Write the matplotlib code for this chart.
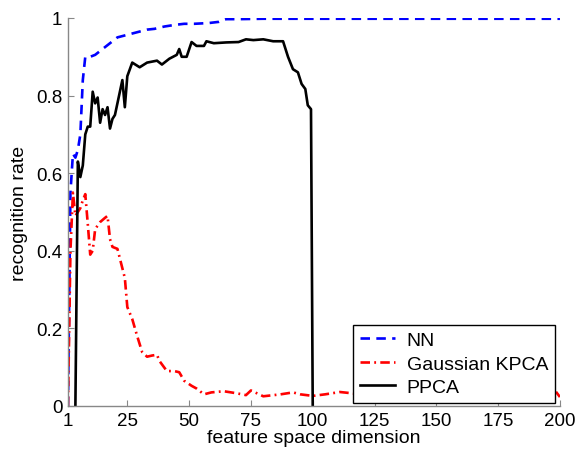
#!/usr/bin/env python3
# Recognition rate vs. feature space dimension (NN / Gaussian KPCA / PPCA).

import matplotlib
matplotlib.use("Agg")
import matplotlib.pyplot as plt

# NN (blue dashed)
nn_x = [1, 2, 3, 4, 5, 6, 7, 8, 10, 12, 15, 18, 21, 24, 27, 30, 33, 36, 40, 44,
        48, 52, 58, 62, 65, 70, 80, 100, 125, 150, 175, 200]
nn_y = [0.0, 0.55, 0.65, 0.64, 0.66, 0.70, 0.84, 0.90, 0.90, 0.905, 0.92, 0.935,
        0.95, 0.955, 0.96, 0.965, 0.97, 0.972, 0.978, 0.982, 0.985, 0.985, 0.987,
        0.99, 0.997, 0.997, 0.998, 0.998, 0.998, 0.998, 0.998, 0.998]

# Gaussian KPCA (red dash-dot)
kpca_x = [1, 2, 3, 4, 5, 6, 7, 8, 9, 10, 11, 12, 14, 16, 17, 18, 19, 21, 22, 24,
          25, 27, 29, 31, 33, 35, 37, 38, 41, 44, 46, 48, 51, 53, 56, 59, 64, 69,
          73, 75, 80, 87, 92, 95, 100, 105, 111, 120, 140, 160, 180, 198, 200]
kpca_y = [0.0, 0.40, 0.55, 0.49, 0.50, 0.51, 0.53, 0.546, 0.47, 0.39, 0.40, 0.456,
          0.474, 0.485, 0.49, 0.43, 0.41, 0.405, 0.38, 0.33, 0.255, 0.224, 0.18,
          0.139, 0.127, 0.13, 0.132, 0.116, 0.09, 0.09, 0.087, 0.065, 0.052, 0.045,
          0.03, 0.035, 0.038, 0.033, 0.028, 0.04, 0.025, 0.03, 0.035, 0.03, 0.026,
          0.03, 0.036, 0.03, 0.03, 0.03, 0.03, 0.04, 0.023]

# PPCA (black solid)
ppca_x = [4, 5, 6, 7, 8, 9, 10, 11, 12, 13, 14, 15, 16, 17, 18, 19, 20, 21, 23,
          24, 25, 27, 30, 33, 37, 39, 42, 45, 46, 47, 49, 51, 53, 56, 57, 60, 65,
          70, 73, 76, 80, 84, 88, 90, 92, 94, 95.5, 97, 98, 99.3, 100]
ppca_y = [0.0, 0.63, 0.59, 0.62, 0.70, 0.72, 0.72, 0.81, 0.78, 0.795, 0.73, 0.765,
          0.75, 0.77, 0.715, 0.74, 0.75, 0.78, 0.84, 0.77, 0.85, 0.885, 0.873,
          0.885, 0.89, 0.88, 0.895, 0.905, 0.92, 0.90, 0.90, 0.938, 0.928, 0.928,
          0.94, 0.935, 0.937, 0.938, 0.945, 0.943, 0.945, 0.94, 0.94, 0.90, 0.868,
          0.86, 0.83, 0.817, 0.775, 0.765, 0.0]

x_ticks = [1, 25, 50, 75, 100, 125, 150, 175, 200]
y_ticks = [0, 0.2, 0.4, 0.6, 0.8, 1]
y_labels = ["0", "0.2", "0.4", "0.6", "0.8", "1"]

plt.rcParams["font.family"] = ["Liberation Sans", "DejaVu Sans"]

fig = plt.figure(figsize=(5.79, 4.52), dpi=100)
ax = fig.add_axes([0.1174, 0.0996, 0.8497, 0.8584])

ax.plot(nn_x, nn_y, color="#0000ff", lw=1.9, ls=(0, (3.6, 2.4)), label="NN")
ax.plot(kpca_x, kpca_y, color="#ff0000", lw=1.9, ls=(0, (3.6, 1.6, 0.7, 1.6)),
        label="Gaussian KPCA")
ax.plot(ppca_x, ppca_y, color="black", lw=1.9, label="PPCA")

ax.set_xlim(1, 200)
ax.set_ylim(0, 1)
ax.set_xticks(x_ticks)
ax.set_yticks(y_ticks)
ax.set_yticklabels(y_labels)
ax.tick_params(direction="in", length=4, color="#888888", labelsize=13.5, pad=4)

for s in ("top", "right"):
    ax.spines[s].set_visible(False)
for s in ("left", "bottom"):
    ax.spines[s].set_color("#888888")
    ax.spines[s].set_linewidth(1.0)

ax.set_xlabel("feature space dimension", fontsize=14, labelpad=0)
ax.set_ylabel("recognition rate", fontsize=14, labelpad=6)

leg = ax.legend(loc="lower right", bbox_to_anchor=(0.99, 0.008), fontsize=14,
                fancybox=False, framealpha=1, edgecolor="black",
                handlelength=1.8, borderpad=0.35, labelspacing=0.3,
                handletextpad=0.6, borderaxespad=0)
leg.get_frame().set_linewidth(1.0)

fig.savefig("out.png", dpi=100)
plt.close(fig)
